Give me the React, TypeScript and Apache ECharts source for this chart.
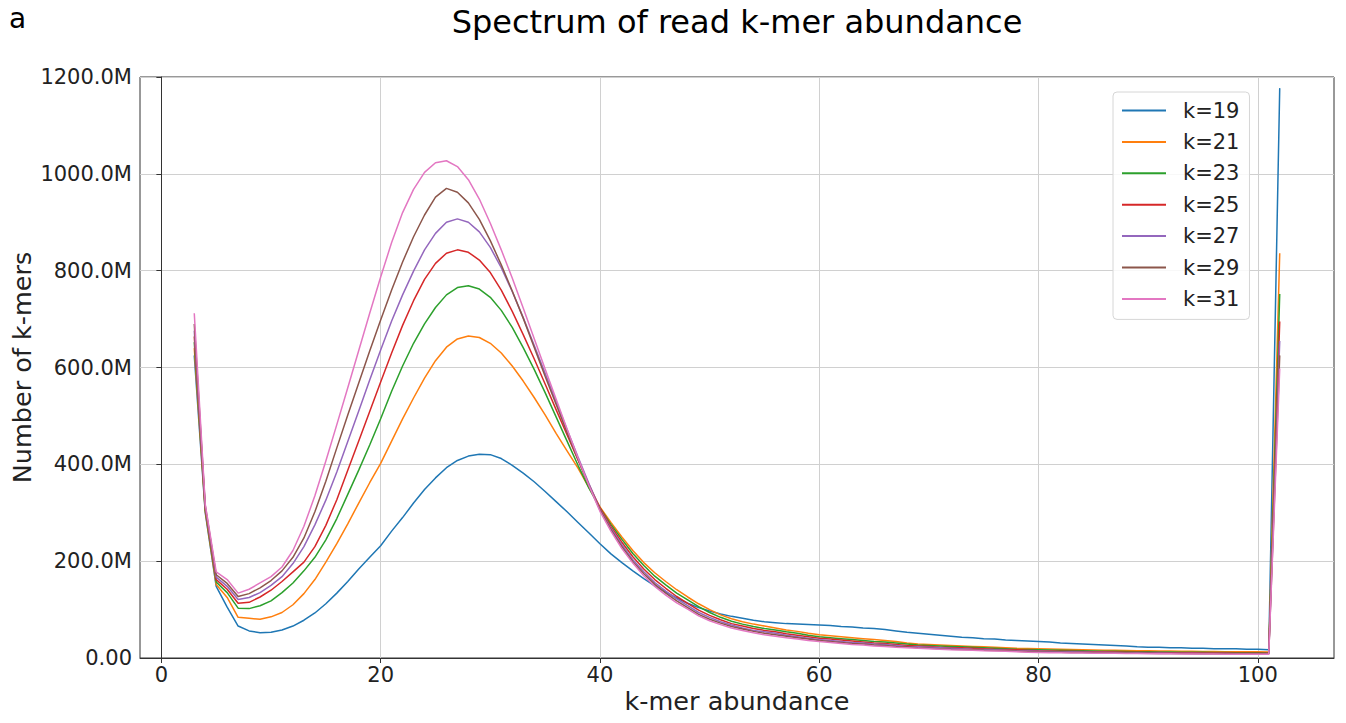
import React, { useEffect, useRef } from "react";
import * as echarts from "echarts";

const abundance = [
  3, 4, 5, 6, 7, 8, 9, 10, 11, 12, 13, 14, 15, 16, 17, 18, 19, 20, 21, 22,
  23, 24, 25, 26, 27, 28, 29, 30, 31, 32, 33, 34, 35, 36, 37, 38, 39, 40, 41, 42,
  43, 44, 45, 46, 47, 48, 49, 50, 51, 52, 53, 54, 55, 56, 57, 58, 59, 60, 61, 62,
  63, 64, 65, 66, 67, 68, 69, 70, 71, 72, 73, 74, 75, 76, 77, 78, 79, 80, 81, 82,
  83, 84, 85, 86, 87, 88, 89, 90, 91, 92, 93, 94, 95, 96, 97, 98, 99, 100, 101, 102,
];

const k19 = [
  625, 300, 148, 105, 66, 56, 52, 53, 58, 66,
  78, 93, 112, 134, 158, 184, 208, 232, 262, 290,
  320, 348, 372, 393, 408, 417, 421, 420, 412, 398,
  382, 364, 344, 323, 302, 280, 258, 236, 215, 197,
  180, 164, 149, 136, 124, 113, 104, 97, 91, 86,
  82, 78, 75, 73, 71, 70, 69, 68, 67, 65,
  64, 62, 61, 59, 56, 53, 51, 49, 47, 45,
  43, 42, 40, 39, 37, 36, 35, 34, 33, 31,
  30, 29, 28, 27, 26, 25, 23, 22, 22, 21,
  21, 20, 20, 19, 19, 19, 18, 18, 17, 1177,
];

const k21 = [
  640, 303, 152, 125, 84, 82, 80, 85, 94, 110,
  133, 162, 198, 236, 277, 320, 362, 402, 448, 494,
  537, 578, 614, 642, 659, 665, 662, 650, 630, 603,
  572, 538, 502, 464, 428, 392, 352, 312, 280, 250,
  222, 197, 176, 158, 141, 126, 112, 100, 89, 81,
  75, 70, 66, 62, 58, 55, 51, 48, 46, 44,
  42, 40, 38, 36, 34, 31, 29, 28, 27, 26,
  25, 24, 23, 22, 21, 20, 19.5, 19, 18.5, 18,
  17.5, 17, 16.5, 16, 16, 15.5, 15, 15, 14.5, 14.5,
  14, 14, 13.5, 13.5, 13, 13, 13, 13, 12.5, 836,
];

const k23 = [
  652, 306, 157, 135, 103, 102, 108, 118, 135, 155,
  180, 208, 244, 288, 338, 388, 440, 494, 551, 603,
  650, 690, 724, 750, 765, 769, 762, 745, 718, 683,
  641, 596, 548, 498, 448, 398, 351, 310, 276, 245,
  216, 191, 169, 151, 134, 120, 106, 94, 84, 76,
  70, 65, 61, 58, 54, 51, 47, 44, 42, 40,
  38, 36, 34, 33, 31, 29, 27, 26, 25, 24,
  23, 22, 21, 20, 19, 18, 17.5, 17, 16.5, 16,
  15.5, 15, 14.5, 14, 14, 13.5, 13, 13, 12.5, 12.5,
  12, 12, 12, 11.5, 11.5, 11, 11, 11, 10.5, 752,
];

const k25 = [
  664, 309, 162, 142, 113, 115, 126, 140, 158, 178,
  198, 230, 274, 327, 388, 448, 509, 570, 630, 687,
  738, 782, 815, 836, 843, 838, 822, 796, 760, 716,
  668, 618, 566, 513, 461, 409, 358, 310, 272, 239,
  209, 184, 162, 144, 127, 113, 99, 88, 79, 71,
  66, 61, 57, 54, 50, 47, 44, 41, 39, 37,
  35, 33, 31, 30, 28, 26, 25, 24, 22, 21,
  21, 20, 19, 18, 17.5, 17, 16, 15, 14.5, 14,
  14, 13.5, 13, 13, 12.5, 12, 12, 11.5, 11.5, 11,
  11, 11, 10.5, 10.5, 10.5, 10, 10, 10, 10, 695,
];

const k27 = [
  676, 312, 167, 148, 121, 125, 135, 150, 168, 195,
  230, 275, 326, 384, 447, 510, 574, 636, 696, 750,
  799, 843, 877, 900, 907, 900, 880, 848, 806, 757,
  703, 646, 588, 530, 472, 415, 360, 307, 268, 234,
  203, 178, 156, 138, 122, 108, 94, 84, 75, 68,
  62, 57, 54, 51, 47, 44, 41, 38, 36, 34,
  32, 31, 29, 28, 26, 24, 23, 22, 21, 20,
  19, 18, 17.5, 17, 16, 15, 14.5, 14, 13.5, 13,
  13, 12.5, 12, 12, 11.5, 11, 11, 10.5, 10.5, 10,
  10, 10, 9.5, 9.5, 9.5, 9, 9, 9, 9, 655,
];

const k29 = [
  690, 315, 172, 154, 127, 133, 145, 160, 180, 208,
  248, 302, 365, 434, 502, 568, 634, 698, 760, 818,
  870, 915, 952, 970, 962, 940, 906, 862, 812, 758,
  702, 642, 582, 524, 466, 410, 356, 306, 265, 230,
  199, 174, 152, 134, 118, 104, 90, 80, 72, 65,
  60, 55, 51, 48, 45, 42, 39, 36, 34, 32,
  30, 29, 27, 26, 24, 23, 21, 20, 19, 18,
  17.5, 17, 16, 15.5, 15, 14, 13, 12.5, 12, 12,
  11.5, 11.5, 11, 11, 10.5, 10.5, 10, 10, 9.5, 9.5,
  9.5, 9, 9, 9, 9, 8.5, 8.5, 8.5, 8.5, 625,
];

const k31 = [
  712, 318, 178, 162, 134, 142, 155, 168, 188, 222,
  272, 335, 407, 482, 558, 635, 712, 787, 858, 920,
  968, 1003, 1023, 1027, 1015, 988, 948, 898, 843, 785,
  723, 660, 597, 535, 473, 413, 356, 303, 262, 226,
  196, 170, 148, 130, 114, 101, 87, 77, 69, 62,
  57, 52, 48, 45, 42, 39, 36, 34, 32, 30,
  28, 27, 25, 24, 22, 21, 20, 19, 18, 17,
  16.5, 16, 15, 14.5, 14, 13, 12, 11.5, 11, 11,
  10.5, 10.5, 10, 10, 10, 9.5, 9.5, 9, 9, 9,
  8.5, 8.5, 8.5, 8.5, 8, 8, 8, 8, 8, 598,
];

const seriesNames = ["k=19", "k=21", "k=23", "k=25", "k=27", "k=29", "k=31"];
const seriesValues = [k19, k21, k23, k25, k27, k29, k31];
const colors = ["#1f77b4", "#ff7f0e", "#2ca02c", "#d62728", "#9467bd", "#8c564b", "#e377c2"];
const xTicks = [0, 20, 40, 60, 80, 100];
const yTicks = [0, 200, 400, 600, 800, 1000, 1200];

const FONT = "DejaVu Sans";

export default function App() {
  const ref = useRef<HTMLDivElement>(null);
  useEffect(() => {
    if (!ref.current) return;
    const chart = echarts.init(ref.current, null, { renderer: "svg" });
    const series = seriesNames.map((name, i) => ({
      name,
      type: "line",
      showSymbol: false,
      symbol: "none",
      smooth: false,
      color: colors[i],
      lineStyle: { width: 1.5, color: colors[i] },
      data: abundance.map((x, j) => [x, seriesValues[i][j]]),
    }));
    chart.setOption({
      animation: false,
      backgroundColor: "#ffffff",
      textStyle: { fontFamily: FONT },
      graphic: [
        {
          type: "text",
          x: 9,
          y: 18,
          style: { text: "a", fontSize: 28, fontFamily: FONT, fill: "#000", align: "left", verticalAlign: "middle" },
        },
        {
          type: "text",
          x: 737,
          y: 22,
          style: {
            text: "Spectrum of read k-mer abundance",
            fontSize: 32,
            fontFamily: FONT,
            fill: "#000",
            align: "center",
            verticalAlign: "middle",
          },
        },
      ],
      grid: {
        left: 140,
        right: 12,
        top: 77,
        bottom: 65,
        show: true,
        borderColor: "#333",
        borderWidth: 1,
        backgroundColor: "transparent",
        containLabel: false,
        outerBoundsMode: "none",
      },
      legend: {
        orient: "vertical",
        left: 1113,
        top: 92,
        padding: [8, 10, 10, 9],
        itemGap: 10.4,
        itemWidth: 44,
        itemHeight: 2,
        icon: "rect",
        backgroundColor: "rgba(255,255,255,0.85)",
        borderColor: "#d6d6d6",
        borderWidth: 1,
        borderRadius: 4,
        textStyle: { fontSize: 21, lineHeight: 21, fontFamily: FONT, color: "#222", padding: [0, 0, 0, 12] },
        data: seriesNames,
      },
      xAxis: {
        type: "value",
        min: -1.95,
        max: 106.95,
        splitNumber: 5,
        name: "k-mer abundance",
        nameLocation: "middle",
        nameGap: 30,
        nameMoveOverlap: false,
        nameTextStyle: { fontSize: 25.5, fontFamily: FONT, color: "#222" },
        axisLine: { show: true, onZero: false, lineStyle: { color: "#333", width: 1 } },
        axisTick: { show: true, inside: false, length: 5, lineStyle: { color: "#333" }, customValues: xTicks },
        axisLabel: { fontSize: 21, fontFamily: FONT, color: "#222", margin: 6, customValues: xTicks },
        splitLine: { show: true, lineStyle: { color: "#d0d0d0", width: 1 } },
      },
      yAxis: {
        type: "value",
        min: 0,
        max: 1200,
        interval: 200,
        name: "Number of k-mers",
        nameLocation: "middle",
        nameGap: 105,
        nameMoveOverlap: false,
        nameTextStyle: { fontSize: 25.5, fontFamily: FONT, color: "#222" },
        axisLine: { show: true, lineStyle: { color: "#333", width: 1 } },
        axisTick: { show: true, inside: false, length: 5, lineStyle: { color: "#333" }, customValues: yTicks },
        axisLabel: {
          fontSize: 21,
          fontFamily: FONT,
          color: "#222",
          margin: 8,
          customValues: yTicks,
          formatter: (v: number) => (v === 0 ? "0.00" : v.toFixed(1) + "M"),
        },
        splitLine: { show: true, lineStyle: { color: "#d0d0d0", width: 1 } },
      },
      series,
    });
    return () => chart.dispose();
  }, []);
  return (
    <div
      ref={ref}
      style={{ position: "fixed", left: 0, top: 0, width: 1346, height: 723, background: "#fff" }}
    />
  );
}
